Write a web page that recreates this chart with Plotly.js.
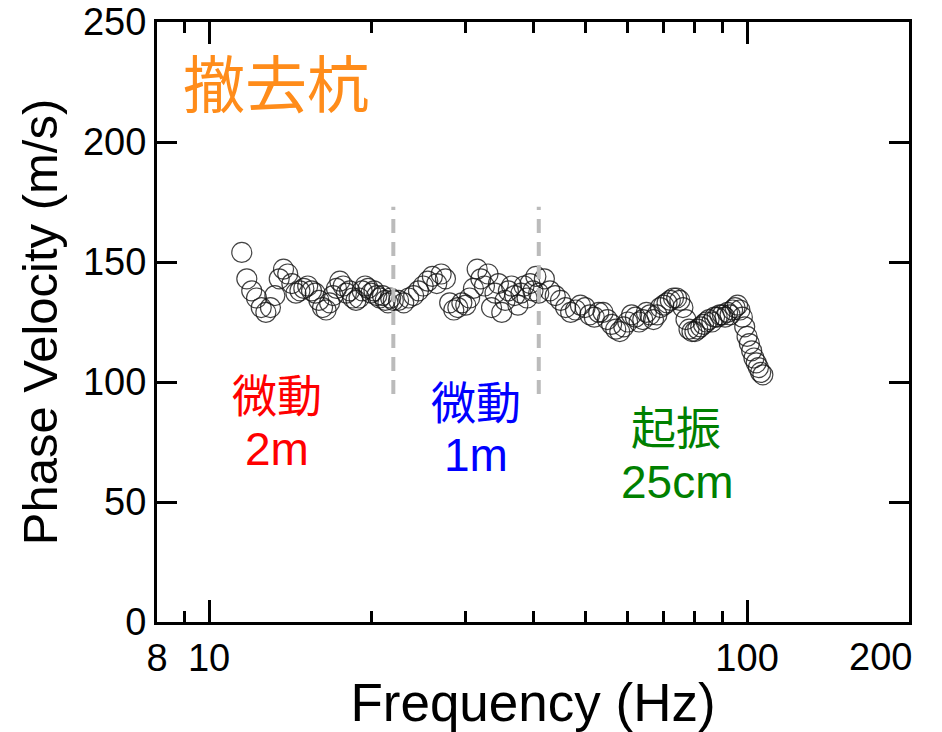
<!DOCTYPE html>
<html>
<head>
<meta charset="utf-8">
<script src="https://cdn.plot.ly/plotly-3.0.1.min.js"></script>
<style>html,body{margin:0;padding:0;background:#fff;}#chart{width:942px;height:732px;}</style>
</head>
<body>
<div id="chart"></div>
<script>
// Segment 1: microtremor, 2 m array
var freq1 = [11.5,11.75,12,12.25,12.5,12.75,13,13.25,13.5,13.75,14,14.25,14.5,14.75,15,15.25,15.5,15.75,16,16.25,16.5,16.75,17,17.25,17.5,17.75,18,18.25,18.5,18.75,19,19.25,19.5,19.75,20,20.25,20.5,20.75,21,21.25,21.5,21.75,22];
var vel1 = [154,143,138,135,131,129,131,136,143,147,145,141,137,138,139,140,138,137,134,131,130,133,136,139,142,140,137,138,135,134,135,138,140,139,137,138,136,135,136,134,133,135,134];
// Segment 2: microtremor, 1 m array
var freq2 = [22.5,23,23.5,24,24.5,25,25.5,26,26.5,27,27.5,28,28.5,29,29.5,30,30.5,31,31.5,32,32.5,33,33.5,34,34.5,35,35.5,36,36.5,37,37.5,38,38.5,39,39.5,40,40.5,41];
var vel2 = [134,133,135,136,138,140,142,144,141,145,143,133,130,131,133,132,135,139,147,143,140,145,131,137,141,129,134,138,140,136,132,137,140,135,141,138,144,137];
// Segment 3: active source, 25 cm
var freq3 = [42,43,44,45,46,47,48,49,50,51,52,53,54,55,56,57,58,59,60,61,62,63,64,65,66,67,68,69,70,71,72,73,74,75,76,77,78,79,80,81,82,83,84,85,86,87,88,89,90,91,92,93,94,95,96,97,98,99,100,101,102,103,104,105,106,107];
var vel3 = [143,138,136,134,131,129,130,132,131,128,127,129,129,126,124,122,121,123,125,128,127,125,126,129,128,126,128,131,132,133,134,135,135,134,131,126,122,121,121,122,123,124,125,126,125,127,127,128,128,127,129,128,130,131,132,130,127,123,119,116,113,110,108,106,104,103];

var xTickVals = [8, 10, 100, 200];
var xTickText = ['8', '10', '100', ''];
var xEdgeLabel = '200';
var xMinorVals = [9, 20, 30, 40, 50, 60, 70, 80, 90];
var boundaries = [22, 41];
var boundaryRange = [95, 173];

var allF = freq1.concat(freq2, freq3);
var allV = vel1.concat(vel2, vel3);

var latin = 'Liberation Sans, Arial, Noto Sans CJK JP, sans-serif';

var trace = {
  x: allF, y: allV, type: 'scatter', mode: 'markers',
  marker: {symbol: 'circle-open', size: 20, color: 'rgba(20,20,20,0.8)', line: {width: 1.2}},
  hoverinfo: 'skip', showlegend: false
};

var shapes = boundaries.map(function (b) {
  return {type: 'line', xref: 'x', yref: 'y', x0: b, x1: b, y0: boundaryRange[0], y1: boundaryRange[1],
          line: {color: '#BBBBBB', width: 4, dash: '14px,9px'}};
});

function ann(text, x, y, size, color) {
  return {text: text, xref: 'paper', yref: 'paper', x: x, y: y, xanchor: 'center', yanchor: 'middle',
          showarrow: false, font: {family: latin, size: size, color: color}};
}

var edgeLabel = {text: xEdgeLabel, xref: 'paper', yref: 'paper', x: 1, y: 0, xanchor: 'right', yanchor: 'top',
                 xshift: 5, yshift: -12, showarrow: false, font: {family: latin, size: 38, color: '#000'}};

var layout = {
  width: 942, height: 732,
  margin: {l: 157, r: 33, t: 22, b: 110},
  paper_bgcolor: '#fff', plot_bgcolor: '#fff',
  xaxis: {
    type: 'log', range: [Math.log10(8), Math.log10(200)],
    tickmode: 'array', tickvals: xTickVals, ticktext: xTickText,
    ticks: 'inside', ticklen: 22, tickwidth: 3, tickcolor: '#000',
    showline: true, linewidth: 3, linecolor: '#000', mirror: 'ticks',
    showgrid: false, zeroline: false,
    tickfont: {family: latin, size: 38, color: '#000'},
    minor: {tickmode: 'array', tickvals: xMinorVals, ticks: 'inside', ticklen: 11, tickwidth: 3, tickcolor: '#000', showgrid: false},
    title: {text: 'Frequency (Hz)', font: {family: latin, size: 53, color: '#000'}, standoff: 4}
  },
  yaxis: {
    range: [0, 250], tickmode: 'linear', tick0: 0, dtick: 50,
    ticks: 'inside', ticklen: 20, tickwidth: 3, tickcolor: '#000',
    showline: true, linewidth: 3, linecolor: '#000', mirror: 'ticks',
    showgrid: false, zeroline: false,
    tickfont: {family: latin, size: 38, color: '#000'},
    title: {text: 'Phase Velocity (m/s)', font: {family: latin, size: 49, color: '#000'}, standoff: 10}
  },
  shapes: shapes,
  annotations: [
    edgeLabel,
    ann('撤去杭', 0.158, 0.892, 62, '#FF8C1A'),
    ann('微動', 0.1596, 0.375, 45, '#FF0000'),
    ann('2m', 0.1596, 0.288, 46, '#FF0000'),
    ann('微動', 0.4242, 0.3617, 45, '#0000FF'),
    ann('1m', 0.4242, 0.2783, 46, '#0000FF'),
    ann('起振', 0.6902, 0.32, 45, '#008000'),
    ann('25cm', 0.6915, 0.2333, 46, '#008000')
  ]
};

Plotly.newPlot('chart', [trace], layout, {displayModeBar: false, staticPlot: true});
</script>
</body>
</html>
